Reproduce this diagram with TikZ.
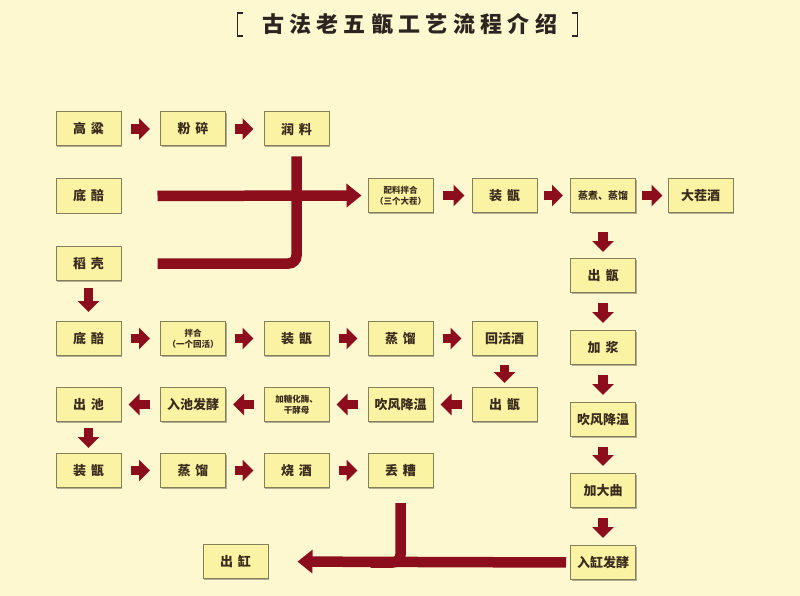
\documentclass[tikz,border=0pt]{standalone}
\usepackage{fontspec}
\newfontfamily\cjk{Noto Sans CJK SC}
\usetikzlibrary{arrows.meta,shadows}
\definecolor{bg}{HTML}{FDF8CF}
\definecolor{boxfill}{HTML}{FBF3A4}
\definecolor{boxline}{HTML}{857F5C}
\definecolor{txt}{HTML}{3A2C1C}
\definecolor{ared}{HTML}{8C0E1D}
\definecolor{ttl}{HTML}{2B2420}
\tikzset{
  box/.style={draw=boxline, line width=1pt, fill=boxfill, minimum width=65pt,
    minimum height=34pt, inner sep=0pt, text=txt,
    font=\cjk\bfseries\fontsize{13}{14}\selectfont,
    drop shadow={shadow xshift=1.3pt, shadow yshift=-1.3pt, opacity=0.3, fill=black}},
  small/.style={font=\cjk\bfseries\fontsize{8.5}{11}\selectfont, align=center},
  sarrow/.style={draw=ared, line width=9.5pt, -{Triangle[width=21pt,length=11pt]},
    shorten <=9pt, shorten >=10pt},
  bigarrow/.style={draw=ared, line width=10.5pt, -{Triangle[width=23pt,length=15pt]}},
  bigbar/.style={draw=ared, line width=10.5pt, rounded corners=8pt},
}
\newcommand{\gapk}{\kern5pt}
\begin{document}
\begin{tikzpicture}[x=1pt,y=-1pt]
\fill[bg] (0,0) rectangle (800,596);
\useasboundingbox (0,0) rectangle (800,596);
% title
\node[text=ttl, font=\cjk\bfseries\fontsize{22}{24}\selectfont, inner sep=0pt] (title) at (409.5,23.5)
  {古\kern5.3pt法\kern5.3pt老\kern5.3pt五\kern5.3pt甑\kern5.3pt工\kern5.3pt艺\kern5.3pt流\kern5.3pt程\kern5.3pt介\kern5.3pt绍};
\draw[ttl, line width=1.8pt] (243,13) -- (237.5,13) -- (237.5,36) -- (243,36);
\draw[ttl, line width=1.8pt] (572,13) -- (577.5,13) -- (577.5,36) -- (572,36);
% row 1
\node[box] (gl) at (88.5,129) {高\gapk 粱};
\node[box] (fs) at (193,129) {粉\gapk 碎};
\node[box] (rl) at (296.5,129) {润\gapk 料};
% row 2
\node[box] (dp1) at (88.5,196) {底\gapk 醅};
\node[box] (dk) at (88.5,263.5) {稻\gapk 壳};
\node[box, small] (pl) at (400.5,195.5) {配料拌合\\（三个大茬）};
\node[box] (zz1) at (504.5,195.5) {装\gapk 甑};
\node[box, font=\cjk\bfseries\fontsize{10}{12}\selectfont] (zj) at (603,195.5) {蒸煮、蒸馏};
\node[box] (dcj) at (700.5,195.5) {大茬酒};
% right column
\node[box] (cz1) at (603,275.5) {出\gapk 甑};
\node[box] (jj) at (603,347.5) {加\gapk 浆};
\node[box] (cf1) at (603,419.5) {吹风降温};
\node[box] (jdq) at (603,490.5) {加大曲};
\node[box] (rg) at (603,562.5) {入缸发酵};
% row 3
\node[box] (dp2) at (88.5,338.5) {底\gapk 醅};
\node[box, small] (bh) at (193,338.5) {拌合\\（一个回活）};
\node[box] (zz2) at (296.5,338.5) {装\gapk 甑};
\node[box] (zl1) at (400.5,338.5) {蒸\gapk 馏};
\node[box] (hhj) at (504.5,338.5) {回活酒};
% row 4
\node[box] (cc) at (88.5,404.5) {出\gapk 池};
\node[box] (rc) at (193,404.5) {入池发酵};
\node[box, small] (jt) at (296.5,404.5) {加糖化酶、\\干酵母};
\node[box] (cf2) at (400.5,404.5) {吹风降温};
\node[box] (cz2) at (504.5,404.5) {出\gapk 甑};
% row 5
\node[box] (zz3) at (88.5,470.5) {装\gapk 甑};
\node[box] (zl2) at (193,470.5) {蒸\gapk 馏};
\node[box] (sj) at (296.5,470.5) {烧\gapk 酒};
\node[box] (dz) at (400.5,470.5) {丢\gapk 糟};
\node[box] (cg) at (235.5,561.5) {出\gapk 缸};
% small arrows
\draw[sarrow] (gl) -- (fs);
\draw[sarrow] (fs) -- (rl);
\draw[sarrow, shorten >=7pt] (pl) -- (zz1);
\draw[sarrow, shorten <=6pt, shorten >=7pt] (zz1) -- (zj);
\draw[sarrow, shorten <=6pt, shorten >=5pt] (zj) -- (dcj);
\draw[sarrow, shorten <=19pt, shorten >=6pt] (zj) -- (cz1);
\draw[sarrow, shorten <=10pt, shorten >=7pt] (cz1) -- (jj);
\draw[sarrow, shorten <=10pt, shorten >=7pt] (jj) -- (cf1);
\draw[sarrow, shorten <=10pt, shorten >=7pt] (cf1) -- (jdq);
\draw[sarrow, shorten <=10pt, shorten >=7pt] (jdq) -- (rg);
\draw[sarrow, shorten <=7pt, shorten >=9pt] (dk) -- (dp2);
\draw[sarrow] (dp2) -- (bh);
\draw[sarrow] (bh) -- (zz2);
\draw[sarrow] (zz2) -- (zl1);
\draw[sarrow] (zl1) -- (hhj);
\draw[sarrow, shorten <=9pt, shorten >=4pt] (hhj) -- (cz2);
\draw[sarrow, shorten <=10pt, shorten >=7pt] (cz2) -- (cf2);
\draw[sarrow, shorten <=10pt, shorten >=7pt] (cf2) -- (jt);
\draw[sarrow, shorten <=10pt, shorten >=7pt] (jt) -- (rc);
\draw[sarrow, shorten <=10pt, shorten >=7pt] (rc) -- (cc);
\draw[sarrow, shorten <=6pt, shorten >=5pt] (cc) -- (zz3);
\draw[sarrow] (zz3) -- (zl2);
\draw[sarrow] (zl2) -- (sj);
\draw[sarrow] (sj) -- (dz);
% big arrows
\draw[bigarrow, shorten <=36pt, shorten >=6pt] (dp1.east) -- (pl.west);
\draw[bigbar] ([yshift=-10pt]rl.south) -- (rl.south |- dk.east) -- ([xshift=36pt]dk.east);
\draw[bigbar] ([yshift=-15pt]dz.south) -- (dz.south |- rg.west) -- ([xshift=-30pt]dz.south |- rg.west);
\draw[bigarrow, shorten <=4pt, shorten >=29pt] (rg.west) -- (cg.east);
\end{tikzpicture}
\end{document}
